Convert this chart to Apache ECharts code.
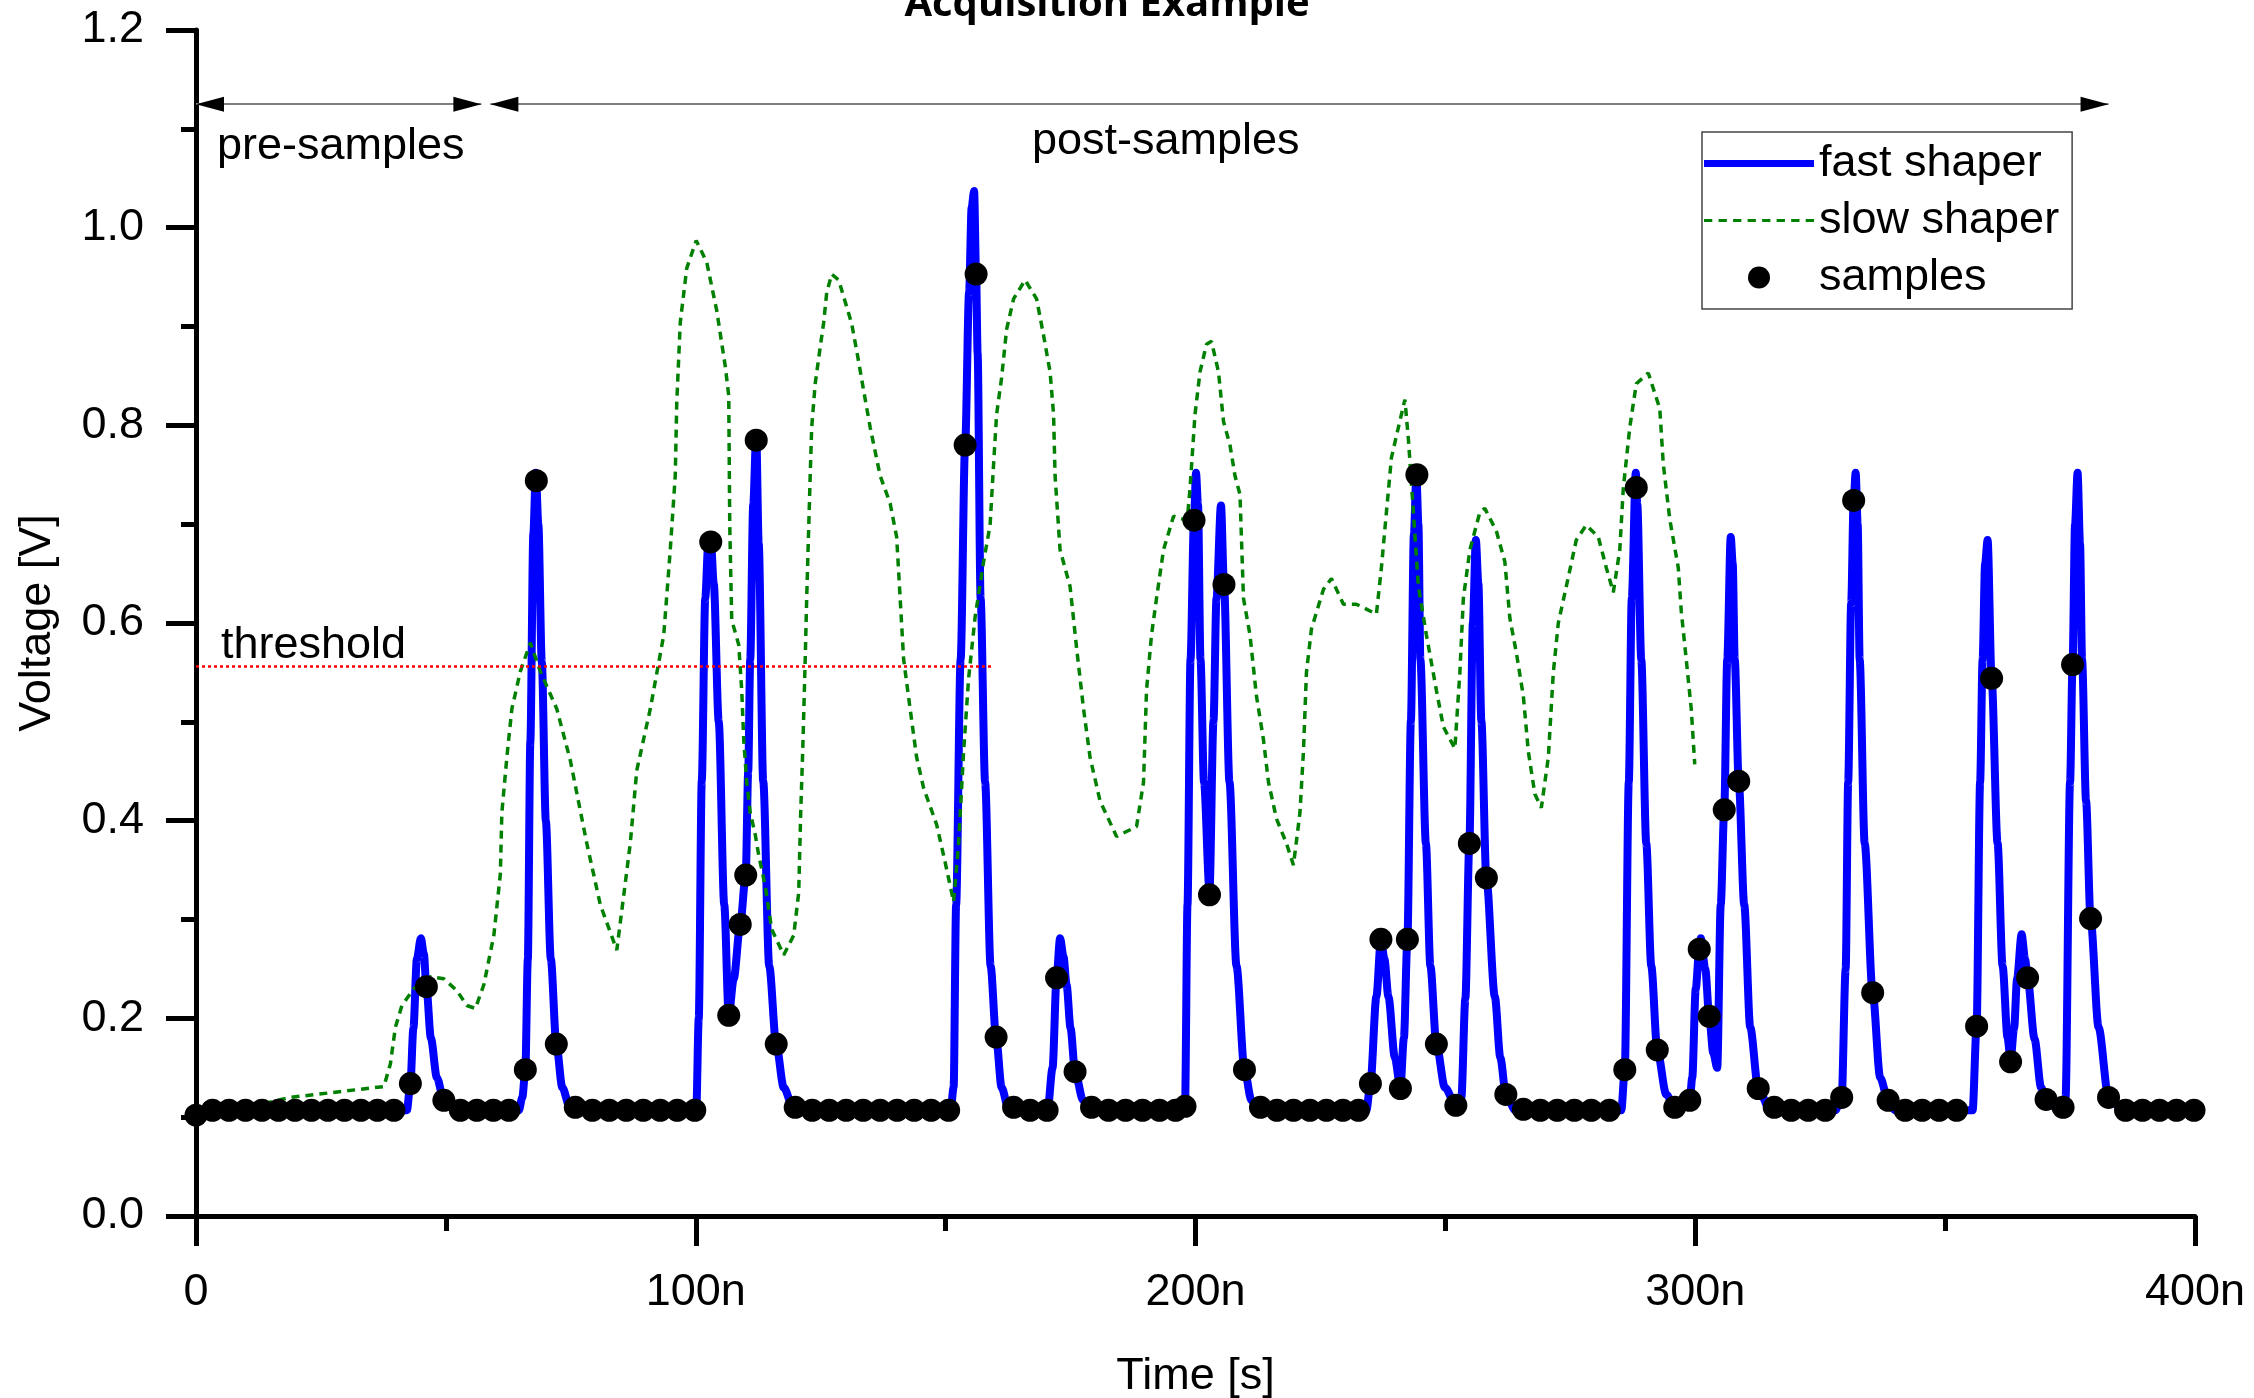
<!DOCTYPE html>
<html>
<head>
<meta charset="utf-8">
<script src="https://cdn.jsdelivr.net/npm/echarts@6/dist/echarts.min.js"></script>
<style>
  html, body { margin: 0; padding: 0; background: #fff; }
  #root { width: 2254px; height: 1398px; }
</style>
</head>
<body>
<div id="root"></div>
<script>
// time in ns, voltage in V
const fastShaper = [
  [0, 0.107], [42.2, 0.107], [42.9, 0.134], [43.5, 0.19], [44.2, 0.26], [45.0, 0.281], [45.6, 0.265], [46.1, 0.232],
  [47.0, 0.18], [48.2, 0.14], [49.6, 0.117], [51.5, 0.108],
  [64.6, 0.107], [65.3, 0.12], [65.9, 0.148], [66.4, 0.26], [66.9, 0.48], [67.5, 0.69], [68.0, 0.752], [68.5, 0.70],
  [69.2, 0.56], [70.0, 0.40], [71.0, 0.26], [72.1, 0.174], [73.3, 0.13], [74.8, 0.11], [76.0, 0.107],
  [100.1, 0.107], [100.6, 0.2], [101.2, 0.44], [101.9, 0.625], [102.5, 0.68], [103.0, 0.686], [103.6, 0.64], [104.6, 0.50],
  [105.7, 0.315], [106.6, 0.203], [107.6, 0.24], [108.9, 0.295], [110.0, 0.345], [110.5, 0.45], [110.9, 0.563], [111.5, 0.72],
  [112.1, 0.79], [112.6, 0.68], [113.5, 0.44], [114.7, 0.253], [116.1, 0.174], [117.6, 0.13], [119.6, 0.108],
  [151.0, 0.107], [151.6, 0.13], [152.1, 0.315], [153.0, 0.563], [153.9, 0.780], [154.7, 0.935], [155.2, 1.02], [155.7, 1.037],
  [156.1, 0.953], [156.4, 0.873], [157.0, 0.625], [157.9, 0.439], [159.0, 0.253], [160.1, 0.181], [161.2, 0.13], [162.6, 0.108],
  [170.4, 0.107], [171.4, 0.15], [172.2, 0.241], [172.9, 0.281], [173.6, 0.262], [174.2, 0.234], [175.0, 0.19], [175.9, 0.146],
  [177.5, 0.117], [179.0, 0.108],
  [197.9, 0.111], [198.4, 0.315], [199.0, 0.563], [199.7, 0.704], [200.1, 0.752], [200.5, 0.72], [201.0, 0.563], [201.7, 0.439],
  [202.8, 0.33], [203.6, 0.501], [204.2, 0.625], [205.1, 0.719], [205.7, 0.639], [206.8, 0.439], [208.2, 0.253], [209.8, 0.148],
  [211.2, 0.117], [212.9, 0.107],
  [234.2, 0.107], [235.0, 0.134], [236.2, 0.222], [237.1, 0.280], [237.8, 0.26], [238.6, 0.222], [239.9, 0.16], [241.0, 0.13],
  [241.7, 0.18], [242.4, 0.280], [243.1, 0.501], [243.7, 0.69], [244.2, 0.750], [244.6, 0.70], [245.0, 0.563], [246.1, 0.377],
  [247.0, 0.253], [248.2, 0.174], [249.9, 0.13], [252.1, 0.112], [253.2, 0.12], [254.0, 0.22], [254.8, 0.377], [255.5, 0.6],
  [256.1, 0.684], [256.6, 0.64], [257.2, 0.501], [258.2, 0.342], [259.9, 0.222], [261.0, 0.16], [262.1, 0.123], [264.0, 0.107],
  [285.2, 0.107], [285.9, 0.148], [286.7, 0.439], [287.3, 0.625], [288.1, 0.752], [288.4, 0.72], [289.2, 0.563], [290.2, 0.377],
  [291.2, 0.253], [292.4, 0.168], [294.2, 0.123], [295.9, 0.110], [298.9, 0.117], [299.4, 0.14], [300.1, 0.23], [300.8, 0.270],
  [301.1, 0.281], [302.0, 0.25], [302.8, 0.202], [303.6, 0.165], [304.4, 0.15], [305.1, 0.315], [305.8, 0.411], [306.4, 0.563],
  [307.1, 0.687], [307.5, 0.66], [307.9, 0.563], [308.7, 0.440], [309.8, 0.315], [311.0, 0.191], [312.6, 0.129], [314.9, 0.108],
  [328.0, 0.107], [329.3, 0.120], [330.1, 0.25], [330.6, 0.439], [331.2, 0.62], [331.7, 0.724], [332.1, 0.752], [332.5, 0.70],
  [332.9, 0.563], [333.9, 0.377], [335.5, 0.226], [337.0, 0.14], [338.6, 0.117], [340.0, 0.107],
  [355.5, 0.107], [356.3, 0.192], [357.0, 0.439], [357.5, 0.563], [358.0, 0.66], [358.5, 0.684], [359.3, 0.544], [360.5, 0.377],
  [361.5, 0.253], [362.5, 0.18], [363.1, 0.158], [363.8, 0.19], [364.4, 0.24], [365.3, 0.285], [366.0, 0.26], [366.5, 0.241],
  [367.9, 0.179], [369.2, 0.13], [370.2, 0.118], [372.0, 0.11], [373.6, 0.110],
  [374.1, 0.12], [375.0, 0.439], [375.5, 0.558], [376.0, 0.70], [376.5, 0.752], [377.0, 0.68], [377.4, 0.563], [378.2, 0.42],
  [379.1, 0.301], [380.7, 0.191], [382.7, 0.120], [385.4, 0.108], [400, 0.107]
];

const slowShaper = [
  [0, 0.098], [18.9, 0.120], [37.6, 0.131], [38.9, 0.154], [39.9, 0.191], [41.2, 0.213], [43.6, 0.230], [46.9, 0.242],
  [49.6, 0.240], [52.2, 0.228], [54.2, 0.213], [55.9, 0.210], [57.6, 0.234], [59.6, 0.284], [60.9, 0.346], [61.2, 0.408],
  [62.2, 0.464], [63.2, 0.513], [64.9, 0.551], [66.9, 0.580], [68.9, 0.551], [72.2, 0.513], [74.9, 0.461], [78.2, 0.377],
  [80.9, 0.315], [84.2, 0.269], [86.9, 0.377], [88.2, 0.451], [90.9, 0.513], [93.6, 0.588], [94.9, 0.674], [95.9, 0.749],
  [96.2, 0.823], [96.9, 0.904], [98.2, 0.959], [100.1, 0.987], [102.2, 0.965], [104.2, 0.916], [105.9, 0.860], [106.6, 0.830],
  [106.8, 0.700], [107.2, 0.603], [108.6, 0.578], [109.2, 0.532], [109.6, 0.482], [110.2, 0.439], [110.9, 0.408], [111.9, 0.386],
  [112.6, 0.365], [113.9, 0.334], [115.2, 0.290], [117.6, 0.264], [119.6, 0.284], [120.6, 0.327], [121.0, 0.408], [121.4, 0.470],
  [121.9, 0.563], [122.2, 0.625], [122.9, 0.749], [123.2, 0.798], [123.9, 0.842], [124.9, 0.879], [125.6, 0.904], [126.2, 0.934],
  [127.2, 0.953], [128.6, 0.947], [129.9, 0.925], [131.2, 0.903], [132.4, 0.870], [133.6, 0.835], [134.9, 0.798], [136.9, 0.749],
  [138.9, 0.721], [140.2, 0.687], [140.9, 0.625], [141.6, 0.563], [142.9, 0.513], [144.2, 0.464], [145.6, 0.433], [148.2, 0.396],
  [149.9, 0.358], [151.6, 0.318], [152.6, 0.377], [153.6, 0.470], [154.6, 0.544], [155.9, 0.606], [157.6, 0.662], [158.9, 0.699],
  [159.6, 0.761], [160.2, 0.811], [161.2, 0.848], [162.2, 0.897], [163.6, 0.928], [165.9, 0.947], [168.2, 0.928], [169.6, 0.891],
  [170.9, 0.854], [171.6, 0.811], [171.9, 0.749], [172.9, 0.674], [174.9, 0.637], [176.2, 0.575], [177.6, 0.513], [178.9, 0.464],
  [180.9, 0.420], [184.2, 0.384], [188.2, 0.394], [189.6, 0.439], [190.2, 0.532], [191.2, 0.588], [192.2, 0.625], [193.6, 0.674],
  [195.6, 0.708], [197.6, 0.705], [198.2, 0.696], [198.9, 0.736], [199.9, 0.811], [200.9, 0.854], [202.2, 0.882], [203.2, 0.885],
  [204.6, 0.854], [205.6, 0.804], [206.9, 0.780], [207.9, 0.749], [208.9, 0.730], [209.6, 0.625], [210.9, 0.588], [212.2, 0.526],
  [213.6, 0.482], [214.6, 0.439], [216.2, 0.402], [218.2, 0.377], [219.6, 0.355], [220.9, 0.408], [221.6, 0.470], [222.2, 0.550],
  [223.2, 0.594], [225.6, 0.634], [227.2, 0.645], [229.6, 0.619], [232.2, 0.619], [236.2, 0.609], [237.2, 0.656], [238.2, 0.712],
  [239.2, 0.767], [240.6, 0.798], [241.9, 0.826], [242.6, 0.786], [243.6, 0.712], [244.6, 0.637], [246.2, 0.588], [248.2, 0.532],
  [249.6, 0.495], [251.9, 0.473], [252.9, 0.550], [253.6, 0.625], [254.9, 0.674], [256.9, 0.712], [257.9, 0.716], [260.2, 0.693],
  [261.9, 0.662], [262.9, 0.605], [264.2, 0.570], [265.6, 0.526], [266.6, 0.470], [267.9, 0.427], [269.2, 0.413], [270.6, 0.464],
  [271.6, 0.550], [272.6, 0.600], [274.2, 0.637], [276.2, 0.684], [278.2, 0.699], [280.6, 0.687], [282.2, 0.656], [283.6, 0.631],
  [284.9, 0.674], [285.6, 0.736], [286.9, 0.798], [288.2, 0.842], [290.6, 0.853], [292.9, 0.817], [293.6, 0.761], [294.9, 0.705],
  [296.6, 0.656], [297.2, 0.612], [298.2, 0.563], [299.2, 0.513], [299.9, 0.457]
];

const samples = [
  [0, 0.102], [3.3, 0.107], [6.6, 0.107], [9.9, 0.107], [13.2, 0.107], [16.5, 0.107], [19.8, 0.107], [23.1, 0.107],
  [26.4, 0.107], [29.7, 0.107], [33.0, 0.107], [36.3, 0.107], [39.6, 0.107], [42.9, 0.134], [46.1, 0.232], [49.6, 0.117],
  [52.9, 0.107], [56.2, 0.107], [59.5, 0.107], [62.6, 0.107], [65.9, 0.148], [68.1, 0.744], [72.1, 0.174], [75.9, 0.110],
  [79.3, 0.107], [82.7, 0.107], [86.1, 0.107], [89.5, 0.107], [92.9, 0.107], [96.3, 0.107], [99.8, 0.107], [103.0, 0.682],
  [106.6, 0.203], [108.9, 0.295], [110.0, 0.345], [112.1, 0.785], [116.1, 0.174], [119.9, 0.110], [123.3, 0.107], [126.7, 0.107],
  [130.1, 0.107], [133.5, 0.107], [136.9, 0.107], [140.3, 0.107], [143.7, 0.107], [147.1, 0.107], [150.6, 0.107], [153.9, 0.780],
  [156.1, 0.953], [160.1, 0.181], [163.6, 0.110], [166.9, 0.107], [170.3, 0.107], [172.2, 0.241], [175.9, 0.146], [179.2, 0.110],
  [182.6, 0.107], [186.0, 0.107], [189.4, 0.107], [192.8, 0.107], [196.0, 0.107], [197.9, 0.111], [199.7, 0.704], [202.8, 0.325],
  [205.7, 0.639], [209.8, 0.148], [213.0, 0.110], [216.3, 0.107], [219.6, 0.107], [222.9, 0.107], [226.2, 0.107], [229.5, 0.107],
  [232.6, 0.107], [235.0, 0.134], [237.1, 0.280], [241.0, 0.129], [242.4, 0.280], [244.3, 0.750], [248.2, 0.174], [252.1, 0.112],
  [254.8, 0.377], [258.2, 0.342], [262.1, 0.123], [265.6, 0.108], [269.0, 0.107], [272.4, 0.107], [275.8, 0.107], [279.2, 0.107],
  [282.8, 0.107], [285.9, 0.148], [288.2, 0.737], [292.4, 0.168], [295.9, 0.110], [298.9, 0.117], [300.8, 0.270], [302.8, 0.202],
  [305.8, 0.411], [308.7, 0.440], [312.6, 0.129], [315.8, 0.110], [319.2, 0.107], [322.6, 0.107], [326.0, 0.107], [329.3, 0.120],
  [331.7, 0.724], [335.5, 0.226], [338.6, 0.117], [342.0, 0.107], [345.4, 0.107], [348.8, 0.107], [352.3, 0.107], [356.3, 0.192],
  [359.3, 0.544], [363.1, 0.156], [366.5, 0.241], [370.2, 0.118], [373.6, 0.110], [375.5, 0.558], [379.1, 0.301], [382.7, 0.120],
  [386.1, 0.107], [389.5, 0.107], [392.9, 0.107], [396.3, 0.107], [399.8, 0.107]
];

// threshold level and its extent, arrow extents (ns) and arrow height (V)
const threshold = { level: 0.556, from: 0, to: 159.3 };
const preSamples = [0, 57.1];
const postSamples = [58.9, 382.7];
const arrowLevel = 1.125;

const FONT = '"Liberation Sans", Arial, sans-serif';
const chart = echarts.init(document.getElementById('root'), null, { renderer: 'canvas' });

const axisCommon = {
  axisLine: { show: true, onZero: false, lineStyle: { color: '#000', width: 5 } },
  axisTick: { show: true, length: 30, lineStyle: { color: '#000', width: 5 } },
  minorTick: { show: true, splitNumber: 2, length: 15, lineStyle: { color: '#000', width: 5 } },
  splitLine: { show: false },
  minorSplitLine: { show: false },
  nameLocation: 'middle',
  nameTextStyle: { fontFamily: FONT, fontSize: 45, color: '#000' }
};

const arrowHead = (t, dir) => ({
  coord: [t, arrowLevel],
  symbol: 'triangle',
  symbolSize: [15, 28],
  symbolRotate: dir < 0 ? 90 : -90,
  symbolOffset: [dir < 0 ? 14 : -14, 0],
  itemStyle: { color: '#000' }
});

// legend glyphs: a thick solid bar and a row of short dashes
const solidIcon = 'path://M0,0H110V7H0Z';
const dashedIcon = 'path://M0,0h8v3h-8z M14,0h8v3h-8z M28,0h8v3h-8z M42,0h8v3h-8z M56,0h8v3h-8z M70,0h8v3h-8z M84,0h8v3h-8z M98,0h8v3h-8z';

const option = {
  animation: false,
  backgroundColor: '#fff',
  title: [
    { text: 'Acquisition Example', left: 1107, top: -15, textAlign: 'center', padding: 0,
      textStyle: { fontFamily: '"Open Sans", sans-serif', fontWeight: 'bold', fontSize: 40, color: '#000' } },
    { text: 'pre-samples', left: 217, top: 124, padding: 0,
      textStyle: { fontFamily: FONT, fontWeight: 'normal', fontSize: 45, color: '#000' } },
    { text: 'post-samples', left: 1032, top: 119, padding: 0,
      textStyle: { fontFamily: FONT, fontWeight: 'normal', fontSize: 45, color: '#000' } },
    { text: 'threshold', left: 221, top: 623, padding: 0,
      textStyle: { fontFamily: FONT, fontWeight: 'normal', fontSize: 45, color: '#000' } }
  ],
  legend: {
    orient: 'vertical',
    left: 1702,
    top: 132,
    itemWidth: 110,
    itemHeight: 22,
    itemGap: 12,
    padding: [9, 13, 9, 2],
    borderColor: '#444',
    borderWidth: 1.5,
    backgroundColor: '#fff',
    textStyle: { fontFamily: FONT, fontSize: 45, color: '#000' },
    data: [
      { name: 'fast shaper', icon: solidIcon, itemStyle: { color: '#0000ff', borderWidth: 0 } },
      { name: 'slow shaper', icon: dashedIcon, itemStyle: { color: '#008000', borderWidth: 0 } },
      { name: 'samples', icon: 'circle', itemStyle: { color: '#000', borderWidth: 0 } }
    ]
  },
  grid: { left: 196, right: 59, top: 30, bottom: 182, containLabel: false, outerBoundsMode: 'none' },
  xAxis: Object.assign({}, axisCommon, {
    type: 'value', min: 0, max: 400, interval: 100,
    name: 'Time [s]', nameGap: 138,
    axisLabel: { fontFamily: FONT, fontSize: 45, color: '#000', margin: 54, showMinLabel: true, showMaxLabel: true,
      formatter: v => (v === 0 ? '0' : v + 'n') }
  }),
  yAxis: Object.assign({}, axisCommon, {
    type: 'value', min: 0, max: 1.2, interval: 0.2,
    name: 'Voltage [V]', nameGap: 136,
    axisLabel: { fontFamily: FONT, fontSize: 45, color: '#000', margin: 52, showMinLabel: true, showMaxLabel: true,
      formatter: v => v.toFixed(1) }
  }),
  series: [
    {
      name: 'fast shaper', type: 'line', data: fastShaper, symbol: 'none', showSymbol: false,
      smooth: 0.3, smoothMonotone: 'x', z: 2,
      lineStyle: { color: '#0000ff', width: 8 }, itemStyle: { color: '#0000ff' }
    },
    {
      name: 'slow shaper', type: 'line', data: slowShaper, symbol: 'none', showSymbol: false,
      z: 3,
      lineStyle: { color: '#008000', width: 3.5, type: [8, 6] }, itemStyle: { color: '#008000' }
    },
    {
      name: 'markers', type: 'line', data: [], z: 4, silent: true,
      markLine: {
        silent: true, symbol: ['none', 'none'], label: { show: false },
        data: [
          [{ coord: [threshold.from, threshold.level], lineStyle: { color: '#ff0000', width: 2.5, type: [3, 3] } },
           { coord: [threshold.to, threshold.level] }],
          [{ coord: [preSamples[0], arrowLevel], lineStyle: { color: '#808080', width: 2, type: 'solid' } },
           { coord: [preSamples[1], arrowLevel] }],
          [{ coord: [postSamples[0], arrowLevel], lineStyle: { color: '#808080', width: 2, type: 'solid' } },
           { coord: [postSamples[1], arrowLevel] }]
        ]
      },
      markPoint: {
        silent: true, label: { show: false },
        data: [
          arrowHead(preSamples[0], -1), arrowHead(preSamples[1], 1),
          arrowHead(postSamples[0], -1), arrowHead(postSamples[1], 1)
        ]
      }
    },
    {
      name: 'samples', type: 'scatter', data: samples, symbol: 'circle', symbolSize: 23, z: 5,
      itemStyle: { color: '#000', opacity: 1 }
    }
  ]
};

chart.setOption(option);
</script>
</body>
</html>
